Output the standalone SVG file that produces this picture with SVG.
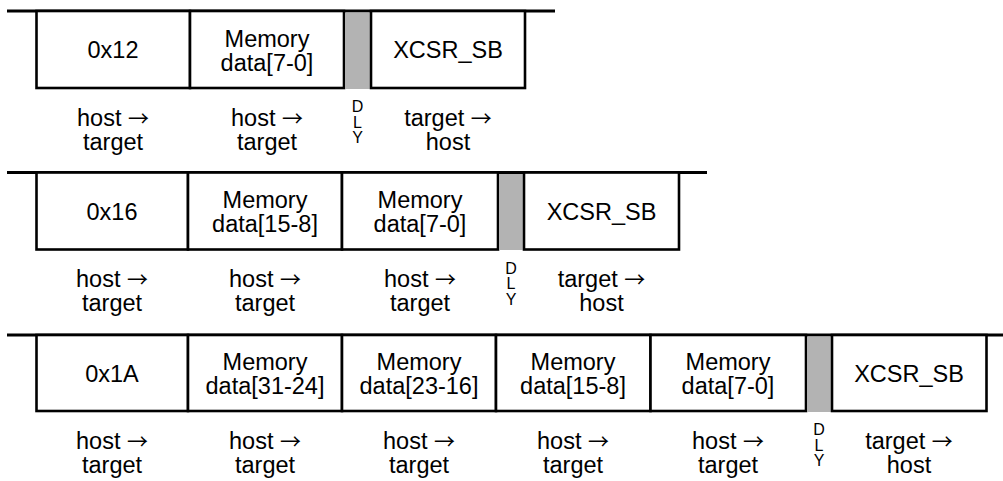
<svg xmlns="http://www.w3.org/2000/svg" width="1003" height="481" viewBox="0 0 1003 481">
<style>
.rule{stroke:#000;stroke-width:3;fill:none}
.cell{fill:#fff;stroke:#000;stroke-width:2.6}
.dly{fill:#b3b3b3;stroke:none}
text{font-family:"Liberation Sans",Arial,sans-serif;font-size:23.5px;fill:#000;text-anchor:middle}
.ar{font-family:"Noto Sans CJK JP","DejaVu Sans",sans-serif;font-size:21px}
.d{font-size:16px}
</style>
<rect width="1003" height="481" fill="#fff"/>
<g id="connectors">
<line class="rule" x1="7" y1="11" x2="555" y2="11"/>
<line class="rule" x1="7" y1="172.5" x2="707" y2="172.5"/>
<line class="rule" x1="7" y1="335" x2="1003" y2="335"/>
</g>
<!-- Row 1 -->
<g id="r1c1"><rect class="cell" x="36.5" y="11" width="153.5" height="77"/><text x="113" y="58">0x12</text><text x="113" y="125.5">host <tspan class="ar">→</tspan></text><text x="113" y="149.5">target</text></g>
<g id="r1c2"><rect class="cell" x="190" y="11" width="154" height="77"/><text x="267" y="46.5">Memory</text><text x="267" y="70.5">data[7-0]</text><text x="267" y="125.5">host <tspan class="ar">→</tspan></text><text x="267" y="149.5">target</text></g>
<g id="r1dly"><rect class="dly" x="345.3" y="12.5" width="24.4" height="76.5"/><text class="d" x="357.5" y="112">D</text><text class="d" x="357.5" y="127.5">L</text><text class="d" x="357.5" y="143">Y</text></g>
<g id="r1c3"><rect class="cell" x="371" y="11" width="154" height="77"/><text x="448" y="58">XCSR_SB</text><text x="448" y="125.5">target <tspan class="ar">→</tspan></text><text x="448" y="149.5">host</text></g>
<!-- Row 2 -->
<g id="r2c1"><rect class="cell" x="36.5" y="172.5" width="151.5" height="77"/><text x="112" y="219.5">0x16</text><text x="112" y="287">host <tspan class="ar">→</tspan></text><text x="112" y="311">target</text></g>
<g id="r2c2"><rect class="cell" x="188" y="172.5" width="154" height="77"/><text x="265" y="208">Memory</text><text x="265" y="232">data[15-8]</text><text x="265" y="287">host <tspan class="ar">→</tspan></text><text x="265" y="311">target</text></g>
<g id="r2c3"><rect class="cell" x="342" y="172.5" width="156" height="77"/><text x="420" y="208">Memory</text><text x="420" y="232">data[7-0]</text><text x="420" y="287">host <tspan class="ar">→</tspan></text><text x="420" y="311">target</text></g>
<g id="r2dly"><rect class="dly" x="499.3" y="174" width="23.4" height="76"/><text class="d" x="511" y="273.5">D</text><text class="d" x="511" y="289">L</text><text class="d" x="511" y="304.5">Y</text></g>
<g id="r2c4"><rect class="cell" x="524" y="172.5" width="155" height="77"/><text x="601.5" y="219.5">XCSR_SB</text><text x="601.5" y="287">target <tspan class="ar">→</tspan></text><text x="601.5" y="311">host</text></g>
<!-- Row 3 -->
<g id="r3c1"><rect class="cell" x="36.5" y="335" width="151.5" height="76"/><text x="112" y="381.5">0x1A</text><text x="112" y="448.5">host <tspan class="ar">→</tspan></text><text x="112" y="472.5">target</text></g>
<g id="r3c2"><rect class="cell" x="188" y="335" width="154" height="76"/><text x="265" y="370">Memory</text><text x="265" y="394">data[31-24]</text><text x="265" y="448.5">host <tspan class="ar">→</tspan></text><text x="265" y="472.5">target</text></g>
<g id="r3c3"><rect class="cell" x="342" y="335" width="154" height="76"/><text x="419" y="370">Memory</text><text x="419" y="394">data[23-16]</text><text x="419" y="448.5">host <tspan class="ar">→</tspan></text><text x="419" y="472.5">target</text></g>
<g id="r3c4"><rect class="cell" x="496" y="335" width="154.5" height="76"/><text x="573" y="370">Memory</text><text x="573" y="394">data[15-8]</text><text x="573" y="448.5">host <tspan class="ar">→</tspan></text><text x="573" y="472.5">target</text></g>
<g id="r3c5"><rect class="cell" x="650.5" y="335" width="155.5" height="76"/><text x="728" y="370">Memory</text><text x="728" y="394">data[7-0]</text><text x="728" y="448.5">host <tspan class="ar">→</tspan></text><text x="728" y="472.5">target</text></g>
<g id="r3dly"><rect class="dly" x="807.3" y="336.5" width="23.4" height="75.5"/><text class="d" x="819" y="435">D</text><text class="d" x="819" y="450.5">L</text><text class="d" x="819" y="466">Y</text></g>
<g id="r3c6"><rect class="cell" x="832" y="335" width="154.5" height="76"/><text x="909" y="381.5">XCSR_SB</text><text x="909" y="448.5">target <tspan class="ar">→</tspan></text><text x="909" y="472.5">host</text></g>
</svg>
